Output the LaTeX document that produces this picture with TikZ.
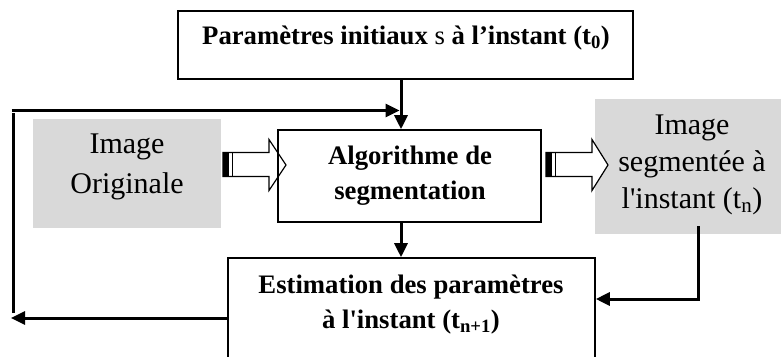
\documentclass[tikz,border=0pt]{standalone}
\usepackage{fontspec}
\setmainfont{Liberation Serif}
\usetikzlibrary{arrows.meta}
\definecolor{greyfill}{RGB}{217,217,217}
\newcommand{\blockarr}[3]{%
  \draw[line width=1.2pt,fill=white] (#1,152.5) -- (#2,152.5) -- (#2,139.5) -- (#3,165) -- (#2,190.5) -- (#2,176.5) -- (#1,176.5) -- cycle;
  \fill (#1,152.5) rectangle ({#1+6},176.5);
  \draw[line width=0.8pt] ({#1+9},152.5) -- ({#1+9},176.5);}
\begin{document}
\begin{tikzpicture}[x=1pt,y=-1pt,
  box/.style={draw,line width=1.6pt,inner sep=0pt},
  greybox/.style={fill=greyfill,inner sep=0pt},
  wire/.style={line width=3pt},
  conn/.style={line width=3pt,-{Triangle[length=14pt,width=13pt]}},
  bt/.style={font=\fontsize{26.7}{35}\selectfont\bfseries,align=center,inner sep=0pt},
  rt/.style={font=\fontsize{30}{38}\selectfont,align=center,inner sep=0pt}]
\useasboundingbox (0,0) rectangle (781,356);
\clip (0,0) rectangle (781,356);
% grey boxes
\node[greybox,minimum width=188pt,minimum height=109pt] (orig) at (127,173.5) {};
\node[greybox,minimum width=195pt,minimum height=135pt] (seg) at (692.5,166.5) {};
% left block arrow (under algo border)
\blockarr{223}{269}{286}
% boxes
\node[box,minimum width=455pt,minimum height=68pt] (top) at (405.5,45) {};
\node[box,minimum width=263pt,minimum height=92pt] (algo) at (409.5,176) {};
\node[box,minimum width=367pt,minimum height=122pt] (est) at (411.5,319) {};
% right block arrow
\blockarr{546}{592}{608}
% texts
\node[bt] (toptext) at (406,38) {Paramètres initiaux {\mdseries s} à l’instant (t\textsubscript{0})};
\node[bt] (algotext) at (410,175.5) {Algorithme de\\segmentation};
\node[rt,font=\fontsize{30}{40}\selectfont] (origtext) at (127,167) {Image\\Originale};
\node[rt,font=\fontsize{30}{37}\selectfont] (segtext) at (692,165) {Image\\segmentée à\\l\textquotesingle instant (t\textsubscript{n})};
\node[bt] (esttext) at (411,304.5) {Estimation des paramètres\\à l\textquotesingle instant (t\textsubscript{n+1})};
% connectors
\coordinate (join) at (401,110.5);
\coordinate (lstart) at (11.5,110.5);
\coordinate (ltop) at (13,113);
\coordinate (lbot) at (13,313);
\coordinate (lend) at (11,318);
\coordinate (sd) at (698,226);
\coordinate (sc) at (698,299);
\draw[conn] (top.south -| join) -- (algo.north -| join);
\draw[conn,shorten >=1.5pt] (lstart) -- (join);
\draw[wire] (lbot) -- (ltop);
\draw[conn] (algo.south -| join) -- (est.north -| join);
\draw[conn] (est.west |- lend) -- (lend);
\draw[wire] (sd) -- (sc);
\draw[conn] ([xshift=1.5pt]sc) -- (est.east |- sc);
\end{tikzpicture}
\end{document}
